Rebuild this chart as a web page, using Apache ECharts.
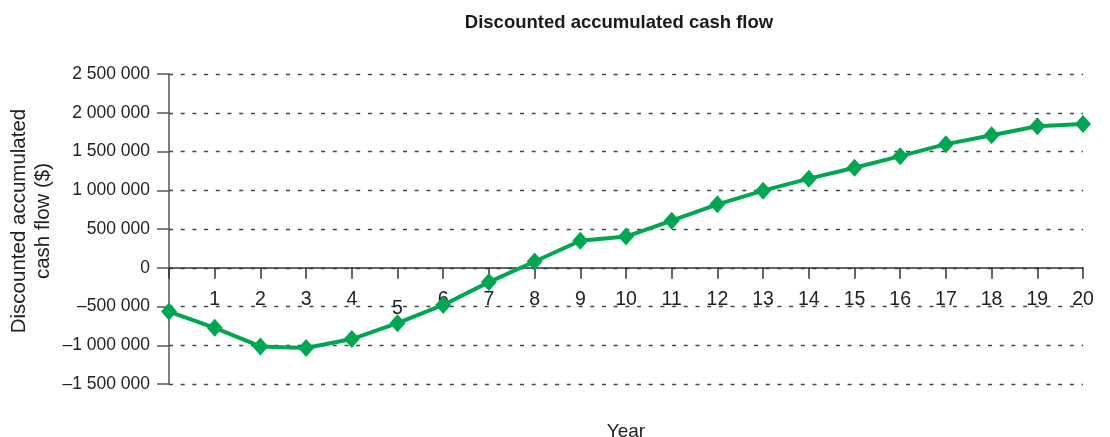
<!DOCTYPE html>
<html>
<head>
<meta charset="utf-8">
<script src="https://cdn.jsdelivr.net/npm/echarts@6/dist/echarts.min.js"></script>
<style>
  html, body { margin: 0; padding: 0; background: #fff; }
  #chart { width: 1110px; height: 437px; }
</style>
</head>
<body>
<div id="chart"></div>
<script>
// years 0..20
const years = ['0', '1', '2', '3', '4', '5', '6', '7', '8', '9', '10',
  '11', '12', '13', '14', '15', '16', '17', '18', '19', '20']
// discounted accumulated cash flow ($)
const cashFlow = [-565000, -775000, -1015000, -1035000, -920000, -715000, -480000,
  -185000, 80000, 348000, 402000, 608000, 818000, 995000, 1150000, 1290000,
  1440000, 1595000, 1710000, 1825000, 1855000]
const yTicks = [-1500000, -1000000, -500000, 0, 500000, 1000000, 1500000, 2000000, 2500000]

const font = 'Liberation Sans, Arial, Helvetica, sans-serif'

// "2 500 000" style, en dash for negatives
function fmt(v) {
  const s = String(Math.abs(v)).replace(/\B(?=(\d{3})+(?!\d))/g, ' ')
  return v < 0 ? '\u2013' + s : s
}

const gridTop = 74, gridBottom = 53, plotH = 437 - gridTop - gridBottom
// shift the x axis up onto the zero line
const zeroOffset = -plotH * (0 - yTicks[0]) / (yTicks[yTicks.length - 1] - yTicks[0])

const chart = echarts.init(document.getElementById('chart'))
chart.setOption({
  animation: false,
  title: [
    {
      text: 'Discounted accumulated cash flow',
      left: 614, top: 8, textAlign: 'center',
      textStyle: {fontFamily: font, fontSize: 18.5, fontWeight: 'bold', color: '#1a1a1a'}
    },
    {
      text: 'Year',
      left: 621, top: 417, textAlign: 'center',
      textStyle: {fontFamily: font, fontSize: 19, fontWeight: 'normal', color: '#222'}
    }
  ],
  // y axis title, two lines rotated
  graphic: [
    {
      type: 'text',
      x: 31, y: 221,
      rotation: Math.PI / 2,
      style: {
        text: 'Discounted accumulated\ncash flow ($)',
        fontFamily: font, fontSize: 20.5, lineHeight: 24, fill: '#222',
        align: 'center', verticalAlign: 'middle'
      }
    }
  ],
  grid: {left: 169, right: 27, top: gridTop, bottom: gridBottom, containLabel: false, outerBoundsMode: 'none'},
  xAxis: {
    type: 'category',
    data: years,
    boundaryGap: false,
    position: 'bottom',
    offset: zeroOffset,
    axisLine: {onZero: false, lineStyle: {color: '#333', width: 1.5}},
    axisTick: {length: 11, interval: 0, lineStyle: {color: '#333', width: 1.5}},
    axisLabel: {
      interval: 0,
      margin: 22,
      fontFamily: font, fontSize: 19.5, color: '#222',
      formatter: function (v) {
        if (v === '0') return ''
        if (v === '5') return '{low|5}'
        return v
      },
      rich: {low: {fontFamily: font, fontSize: 19.5, color: '#222', padding: [9, 0, 0, 0]}}
    },
    splitLine: {show: false}
  },
  yAxis: {
    type: 'value',
    min: yTicks[0],
    max: yTicks[yTicks.length - 1],
    interval: 500000,
    axisLine: {show: true, onZero: false, lineStyle: {color: '#555', width: 1.5}},
    axisTick: {show: true, length: 12, lineStyle: {color: '#555', width: 1.5}},
    axisLabel: {
      margin: 19,
      fontFamily: font, fontSize: 17.5, color: '#222',
      formatter: fmt
    },
    splitLine: {
      show: true,
      lineStyle: {color: '#444', type: [4, 7.7], width: 1.3}
    }
  },
  series: [
    {
      type: 'line',
      data: cashFlow,
      symbol: 'diamond',
      symbolSize: [16, 18],
      lineStyle: {color: '#00a651', width: 4},
      itemStyle: {color: '#00a651'},
      z: 5
    }
  ]
})
</script>
</body>
</html>
